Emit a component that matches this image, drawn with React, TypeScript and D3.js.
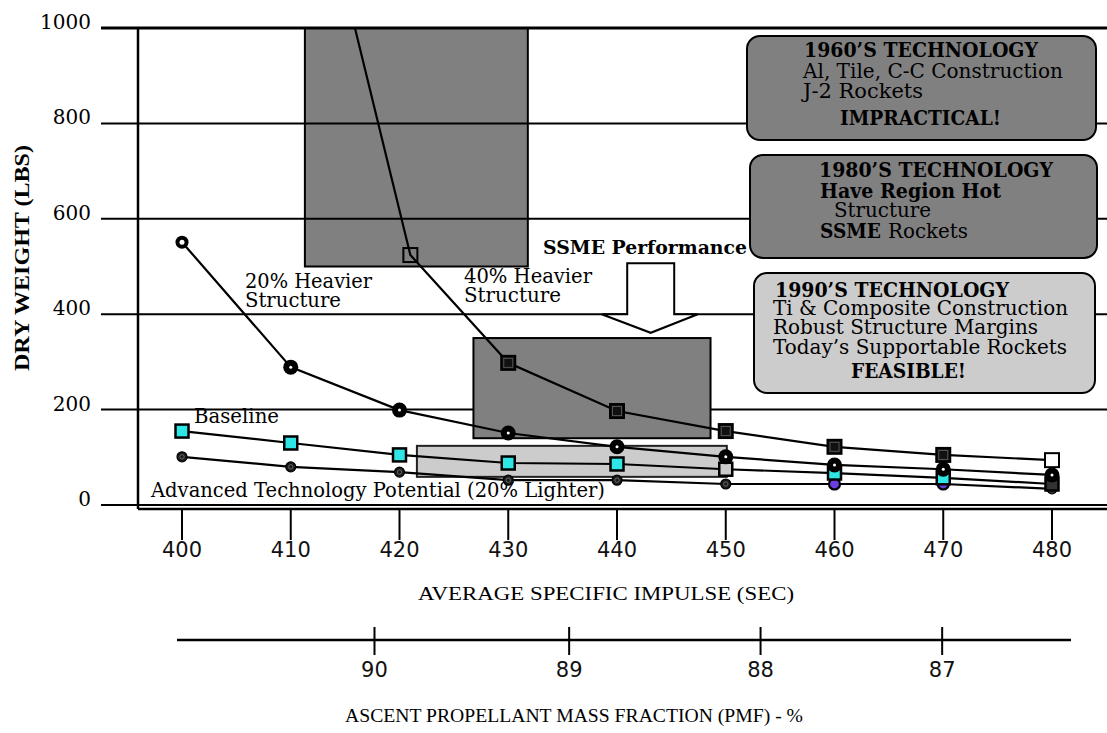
import React from "react";
import * as d3 from "d3";

// ---------- data ----------
const ispTicks = [400, 410, 420, 430, 440, 450, 460, 470, 480];
const weightTicks = [0, 200, 400, 600, 800, 1000];
const pmfTicks = [90, 89, 88, 87];
const pmfAsIsp = [417.7, 435.6, 453.2, 469.9];

const heavy40Isp = [410, 421, 430, 440, 450, 460, 470, 480];
const heavy40 = [1551, 524, 298, 197, 155, 122, 105, 94];
const heavy20 = [551, 289, 199, 151, 122, 101, 84, 75, 63];
const baseline = [155, 130, 105, 88, 86, 75, 67, 57, 44];
const advanced = [101, 80, 69, 52, 52, 44, 44, 44, 34];

// shaded technology regions (isp range, weight range)
const region1960Isp = [411.3, 431.8];
const region1960Wt = [500, 1000];
const region1980Isp = [426.8, 448.6];
const region1980Wt = [140, 350];
const region1990Isp = [421.6, 450.1];
const region1990Wt = [59, 124];

// SSME arrow (isp centre, top / neck / tip weights)
const arrowIsp = 443.1;
const arrowWt = [507, 400, 361];

// marker styles (separate from values)
const CYAN = "#2ee6e6";
const PURPLE = "#6a3fe0";
const heavy40Fill = ["#111", "none", "#111", "#111", "#111", "#111", "#111", "#fff"];
const baselineFill = [CYAN, CYAN, CYAN, CYAN, CYAN, "#cccccc", CYAN, CYAN, "#333"];
const advancedFill = ["#1a1a1a", "#1a1a1a", "#1a1a1a", "#1a1a1a", "#1a1a1a", "#1a1a1a", PURPLE, PURPLE, "#333"];

const W = 1107;
const H = 733;
const SERIF = "DejaVu Serif";
const TIMES = "Liberation Serif";
const NUM = "DejaVu Sans";

export default function App() {
  const x = d3.scaleLinear().domain([400, 480]).range([182, 1052]);
  const y = d3.scaleLinear().domain([0, 1000]).range([505, 28]);
  const line = d3
    .line<[number, number]>()
    .x((d) => x(d[0]))
    .y((d) => y(d[1]));

  const s40: [number, number][] = heavy40Isp.map((v, i) => [v, heavy40[i]]);
  const s20: [number, number][] = ispTicks.map((v, i) => [v, heavy20[i]]);
  const sBase: [number, number][] = ispTicks.map((v, i) => [v, baseline[i]]);
  const sAdv: [number, number][] = ispTicks.map((v, i) => [v, advanced[i]]);

  const rect = (isp: number[], wt: number[]) => ({
    x: x(isp[0]),
    y: y(wt[1]),
    width: x(isp[1]) - x(isp[0]),
    height: y(wt[0]) - y(wt[1]),
  });

  const ax = x(arrowIsp);
  const [aTop, aNeck, aTip] = arrowWt.map((v) => y(v));
  const arrowPts = [
    [ax - 23.5, aTop],
    [ax + 23.5, aTop],
    [ax + 23.5, aNeck],
    [ax + 47, aNeck],
    [ax, aTip],
    [ax - 49, aNeck],
    [ax - 23.5, aNeck],
  ]
    .map((p) => p.join(","))
    .join(" ");

  const xAxisY = y(0) + 4;

  return (
    <svg
      width={W}
      height={H}
      style={{ position: "absolute", left: 0, top: 0, display: "block", background: "#fff" }}
    >
      <defs>
        <clipPath id="plotclip">
          <rect x={0} y={y(1000)} width={W} height={H} />
        </clipPath>
      </defs>

      {/* 1960s region under grid */}
      <rect {...rect(region1960Isp, region1960Wt)} fill="#808080" stroke="#000" strokeWidth={2} />

      {/* gridlines */}
      {weightTicks.map((t) => (
        <line
          key={t}
          x1={101}
          x2={W}
          y1={y(t)}
          y2={y(t)}
          stroke="#000"
          strokeWidth={t === 1000 ? 3 : 2}
        />
      ))}
      {weightTicks.map((t) => (
        <text
          key={"yl" + t}
          x={91}
          y={y(t) + 1}
          textAnchor="end"
          fontFamily={SERIF}
          fontSize={20}
          fill="#000"
        >
          {t}
        </text>
      ))}

      {/* y axis line & x axis line */}
      <line x1={138} x2={138} y1={y(1000)} y2={xAxisY} stroke="#000" strokeWidth={2.5} />
      <line x1={138} x2={W} y1={xAxisY} y2={xAxisY} stroke="#000" strokeWidth={2.5} />
      {ispTicks.map((t) => (
        <g key={"xt" + t}>
          <line x1={x(t)} x2={x(t)} y1={xAxisY} y2={540} stroke="#000" strokeWidth={2} />
          <text x={x(t)} y={557} textAnchor="middle" fontFamily={NUM} fontSize={21} fill="#111">
            {t}
          </text>
        </g>
      ))}
      <text x={606} y={600} textAnchor="middle" fontFamily={TIMES} fontSize={19} textLength={376} lengthAdjust="spacingAndGlyphs">
        AVERAGE SPECIFIC IMPULSE (SEC)
      </text>

      {/* PMF axis */}
      <line x1={177} x2={1071} y1={640} y2={640} stroke="#000" strokeWidth={2.5} />
      {pmfTicks.map((t, i) => (
        <g key={"pt" + t}>
          <line x1={x(pmfAsIsp[i])} x2={x(pmfAsIsp[i])} y1={627} y2={655} stroke="#000" strokeWidth={2} />
          <text x={x(pmfAsIsp[i])} y={677} textAnchor="middle" fontFamily={NUM} fontSize={21} fill="#111">
            {t}
          </text>
        </g>
      ))}
      <text x={574} y={722} textAnchor="middle" fontFamily={TIMES} fontSize={19} textLength={458} lengthAdjust="spacingAndGlyphs">
        ASCENT PROPELLANT MASS FRACTION (PMF) - %
      </text>

      {/* y axis title */}
      <text
        transform={`translate(29,258) rotate(-90)`}
        textAnchor="middle"
        fontFamily={TIMES}
        fontWeight="bold"
        fontSize={20}
        textLength={226}
        lengthAdjust="spacingAndGlyphs"
      >
        DRY WEIGHT (LBS)
      </text>

      {/* other regions */}
      <rect {...rect(region1980Isp, region1980Wt)} fill="#808080" stroke="#000" strokeWidth={2} />
      <rect {...rect(region1990Isp, region1990Wt)} fill="#cccccc" stroke="#222" strokeWidth={2} />

      {/* annotation boxes */}
      <rect x={747} y={36} width={349} height={104} rx={13} fill="#808080" stroke="#000" strokeWidth={2} />
      <g fontFamily={SERIF} fontSize={20} fill="#000">
        <text x={804} y={57} fontWeight="bold" textLength={234} lengthAdjust="spacingAndGlyphs">1960’S TECHNOLOGY</text>
        <text x={803} y={78} textLength={260} lengthAdjust="spacingAndGlyphs">Al, Tile, C-C Construction</text>
        <text x={803} y={98} textLength={120} lengthAdjust="spacingAndGlyphs">J-2 Rockets</text>
        <text x={840} y={125} fontWeight="bold" textLength={161} lengthAdjust="spacingAndGlyphs">IMPRACTICAL!</text>
      </g>

      <rect x={750} y={155} width={347} height={103} rx={13} fill="#808080" stroke="#000" strokeWidth={2} />
      <g fontFamily={SERIF} fontSize={20} fill="#000">
        <text x={819} y={177} fontWeight="bold" textLength={234} lengthAdjust="spacingAndGlyphs">1980’S TECHNOLOGY</text>
        <text x={820} y={198} fontWeight="bold" textLength={181} lengthAdjust="spacingAndGlyphs">Have Region Hot</text>
        <text x={834} y={217} textLength={97} lengthAdjust="spacingAndGlyphs">Structure</text>
        <text x={820} y={238} fontWeight="bold" textLength={61} lengthAdjust="spacingAndGlyphs">SSME</text>
        <text x={888} y={238} textLength={80} lengthAdjust="spacingAndGlyphs">Rockets</text>
      </g>

      <rect x={754} y={273} width={341} height={120} rx={13} fill="#cccccc" stroke="#000" strokeWidth={2} />
      <g fontFamily={SERIF} fontSize={20} fill="#000">
        <text x={775} y={297} fontWeight="bold" textLength={234} lengthAdjust="spacingAndGlyphs">1990’S TECHNOLOGY</text>
        <text x={773} y={315} textLength={295} lengthAdjust="spacingAndGlyphs">Ti &amp; Composite Construction</text>
        <text x={773} y={334} textLength={265} lengthAdjust="spacingAndGlyphs">Robust Structure Margins</text>
        <text x={773} y={354} textLength={294} lengthAdjust="spacingAndGlyphs">Today’s Supportable Rockets</text>
        <text x={851} y={378} fontWeight="bold" textLength={115} lengthAdjust="spacingAndGlyphs">FEASIBLE!</text>
      </g>

      {/* SSME arrow */}
      <text x={543} y={254} fontFamily={SERIF} fontWeight="bold" fontSize={19} textLength={204} lengthAdjust="spacingAndGlyphs">
        SSME Performance
      </text>
      <polygon points={arrowPts} fill="#fff" stroke="#000" strokeWidth={2} strokeLinejoin="miter" />

      {/* series labels */}
      <g fontFamily={SERIF} fontSize={20} fill="#000">
        <text x={245} y={288} textLength={127} lengthAdjust="spacingAndGlyphs">20% Heavier</text>
        <text x={245} y={307} textLength={96} lengthAdjust="spacingAndGlyphs">Structure</text>
        <text x={464} y={283} textLength={128} lengthAdjust="spacingAndGlyphs">40% Heavier</text>
        <text x={464} y={302} textLength={97} lengthAdjust="spacingAndGlyphs">Structure</text>
        <text x={194} y={423} textLength={85} lengthAdjust="spacingAndGlyphs">Baseline</text>
        <text x={151} y={497} textLength={454} lengthAdjust="spacingAndGlyphs">Advanced Technology Potential (20% Lighter)</text>
      </g>

      {/* series lines */}
      <g clipPath="url(#plotclip)" fill="none" stroke="#000" strokeWidth={2.2}>
        <path d={line(sAdv) || ""} />
        <path d={line(sBase) || ""} />
        <path d={line(s20) || ""} />
        <path d={line(s40) || ""} />
      </g>

      {/* markers */}
      {sAdv.map((d, i) => (
        <g key={"a" + i} transform={`translate(${x(d[0])},${y(d[1])})`}>
          <circle r={advancedFill[i] === PURPLE ? 5.5 : 5} fill={advancedFill[i]} stroke="#000" strokeWidth={advancedFill[i] === PURPLE ? 2.2 : 1.2} />
          {advancedFill[i] !== PURPLE && <circle r={2.2} fill="none" stroke="#777" strokeWidth={0.8} />}
        </g>
      ))}
      {sBase.map((d, i) => (
        <rect
          key={"b" + i}
          x={x(d[0]) - 6.5}
          y={y(d[1]) - 6.5}
          width={13}
          height={13}
          fill={baselineFill[i]}
          stroke="#000"
          strokeWidth={2.5}
        />
      ))}
      {s20.map((d, i) => (
        <g key={"c" + i} transform={`translate(${x(d[0])},${y(d[1])})`}>
          <circle r={i === 0 ? 6.5 : 7.5} fill="#000" />
          <circle r={i === 0 ? 2.5 : 1.5} fill="#fff" />
        </g>
      ))}
      <g clipPath="url(#plotclip)">
        {s40.map((d, i) => (
          <g key={"s" + i} transform={`translate(${x(d[0])},${y(d[1])})`}>
            <rect x={-7} y={-7} width={14} height={14} fill={heavy40Fill[i]} stroke="#000" strokeWidth={2} />
            {heavy40Fill[i] === "#111" && (
              <rect x={-4.5} y={-4.5} width={9} height={9} fill="none" stroke="#555" strokeWidth={1} />
            )}
          </g>
        ))}
      </g>
    </svg>
  );
}
